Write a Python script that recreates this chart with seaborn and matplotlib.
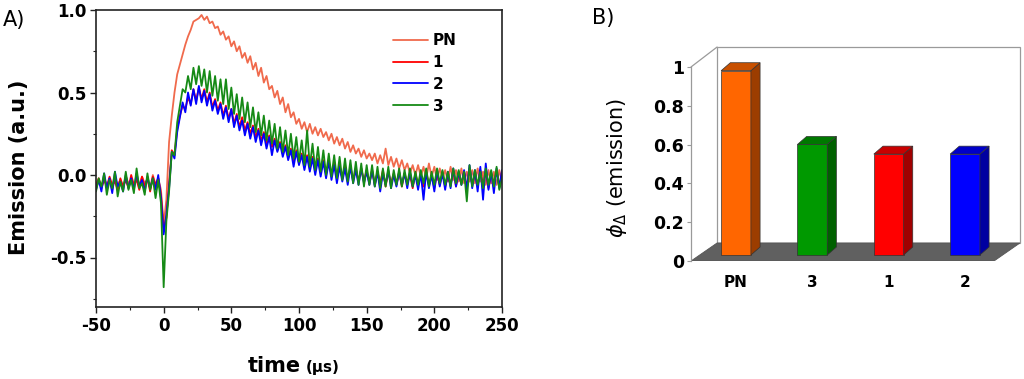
import numpy as np
import pandas as pd
import matplotlib
matplotlib.use("Agg")
import matplotlib.pyplot as plt
import seaborn as sns
from matplotlib.patches import Polygon, Rectangle
from matplotlib.ticker import MultipleLocator, FixedLocator

# ---------------- data: panel A (emission traces) ----------------
time_us = list(range(-50, 251, 2))

emission_PN = [
    -0.08, -0.03, -0.07, -0.02, -0.06, -0.04, -0.09, -0.02, -0.06, -0.03,
    -0.08, -0.01, -0.05, -0.03, -0.07, -0.02, -0.06, -0.01, -0.05, -0.03,
    -0.08, -0.00, -0.06, -0.02, -0.09,
    -0.30, -0.15, 0.20, 0.36, 0.50, 0.61, 0.67, 0.73, 0.79, 0.84,
    0.88, 0.93, 0.94, 0.95, 0.97, 0.94, 0.96, 0.92, 0.93, 0.89,
    0.90, 0.85, 0.87, 0.82, 0.84, 0.78, 0.81, 0.75, 0.78, 0.71,
    0.74, 0.68, 0.72, 0.64, 0.68, 0.60, 0.65, 0.56, 0.60, 0.52,
    0.54, 0.47, 0.51, 0.43, 0.47, 0.38, 0.43, 0.35, 0.38, 0.31,
    0.34, 0.28, 0.32, 0.26, 0.31, 0.25, 0.29, 0.24, 0.28, 0.23,
    0.26, 0.21, 0.25, 0.19, 0.23, 0.18, 0.22, 0.16, 0.20, 0.14,
    0.18, 0.13, 0.16, 0.11, 0.15, 0.10, 0.13, 0.09, 0.13, 0.07,
    0.12, 0.07, 0.16, 0.06, 0.11, 0.05, 0.10, 0.04, 0.09, 0.03,
    0.07, 0.01, 0.06, 0.00, 0.06, -0.01, 0.05, -0.02, 0.07, -0.01,
    0.05, -0.03, 0.04, -0.02, 0.03, -0.04, 0.05, -0.03, 0.03, -0.04,
    0.04, -0.05, 0.02, -0.04, 0.03, -0.05, 0.04, -0.04, 0.02, -0.06,
    0.03, -0.05, 0.02, -0.06, 0.03, -0.04,
]

emission_1 = [
    -0.06, -0.02, -0.08, -0.03, -0.07, -0.01, -0.06, -0.04, -0.09, -0.02,
    -0.07, -0.03, -0.08, 0.00, -0.06, -0.03, -0.09, -0.01, -0.07, -0.02,
    -0.10, -0.01, -0.06, -0.02, -0.12,
    -0.32, -0.26, -0.05, 0.15, 0.12, 0.28, 0.36, 0.42, 0.40, 0.47,
    0.43, 0.52, 0.45, 0.53, 0.46, 0.52, 0.44, 0.50, 0.41, 0.46,
    0.39, 0.44, 0.36, 0.42, 0.34, 0.40, 0.31, 0.37, 0.29, 0.35,
    0.27, 0.32, 0.25, 0.30, 0.23, 0.28, 0.21, 0.26, 0.19, 0.24,
    0.17, 0.22, 0.15, 0.20, 0.13, 0.18, 0.11, 0.16, 0.08, 0.15,
    0.07, 0.13, 0.06, 0.12, 0.04, 0.11, 0.03, 0.10, 0.02, 0.09,
    0.01, 0.08, 0.00, 0.07, -0.01, 0.06, -0.02, 0.05, -0.03, 0.05,
    -0.03, 0.04, -0.04, 0.04, -0.04, 0.03, -0.05, 0.03, -0.06, 0.02,
    -0.05, 0.03, -0.07, 0.02, -0.05, 0.01, -0.06, 0.02, -0.07, 0.01,
    -0.05, 0.00, -0.08, 0.01, -0.06, 0.00, -0.07, 0.02, -0.06, 0.00,
    -0.08, 0.01, -0.06, 0.02, -0.07, 0.00, -0.06, 0.03, -0.07, 0.01,
    -0.05, 0.02, -0.08, 0.04, -0.06, 0.01, -0.07, 0.03, -0.06, 0.02,
    -0.08, 0.01, -0.05, 0.03, -0.07, 0.02,
]

emission_2 = [
    -0.09, -0.03, -0.10, 0.01, -0.08, -0.02, -0.11, 0.02, -0.07, -0.04,
    -0.10, 0.00, -0.08, -0.02, -0.09, 0.01, -0.07, -0.03, -0.10, -0.01,
    -0.08, -0.02, -0.09, 0.00, -0.14,
    -0.36, -0.24, -0.08, 0.14, 0.10, 0.26, 0.35, 0.44, 0.38, 0.50,
    0.42, 0.52, 0.43, 0.54, 0.44, 0.51, 0.42, 0.49, 0.39, 0.45,
    0.37, 0.43, 0.34, 0.41, 0.32, 0.40, 0.29, 0.36, 0.27, 0.33,
    0.24, 0.31, 0.22, 0.29, 0.20, 0.27, 0.18, 0.25, 0.16, 0.23,
    0.12, 0.21, 0.14, 0.19, 0.11, 0.17, 0.09, 0.15, 0.05, 0.14,
    0.06, 0.12, 0.03, 0.11, 0.02, 0.10, 0.00, 0.09, -0.01, 0.08,
    -0.02, 0.08, -0.03, 0.06, -0.05, 0.05, -0.04, 0.04, -0.06, 0.05,
    -0.05, 0.03, -0.06, 0.04, -0.05, 0.02, -0.06, 0.03, -0.07, 0.02,
    -0.10, 0.01, -0.06, 0.03, -0.08, 0.00, -0.07, 0.02, -0.06, 0.01,
    -0.08, 0.02, -0.07, 0.00, -0.09, 0.01, -0.15, 0.02, -0.08, 0.00,
    -0.10, 0.03, -0.07, 0.01, -0.09, 0.02, -0.08, 0.04, -0.07, 0.02,
    -0.06, 0.03, -0.09, 0.06, -0.08, 0.03, -0.10, 0.05, -0.15, 0.07,
    -0.09, 0.02, -0.11, 0.04, -0.08, 0.03,
]

emission_3 = [
    -0.10, -0.02, -0.07, 0.01, -0.12, -0.03, -0.08, 0.02, -0.13, -0.04,
    -0.10, 0.02, -0.09, -0.03, -0.11, 0.04, -0.08, -0.05, -0.12, 0.01,
    -0.09, -0.02, -0.14, -0.03, -0.17,
    -0.68, -0.28, -0.10, 0.14, 0.12, 0.32, 0.42, 0.52, 0.50, 0.60,
    0.52, 0.65, 0.55, 0.66, 0.54, 0.64, 0.50, 0.63, 0.48, 0.60,
    0.45, 0.58, 0.43, 0.58, 0.40, 0.53, 0.37, 0.49, 0.34, 0.47,
    0.32, 0.44, 0.29, 0.41, 0.26, 0.38, 0.24, 0.36, 0.21, 0.33,
    0.19, 0.31, 0.16, 0.29, 0.14, 0.27, 0.12, 0.25, 0.10, 0.23,
    0.08, 0.21, 0.06, 0.27, 0.05, 0.19, 0.03, 0.17, 0.02, 0.15,
    0.00, 0.13, -0.01, 0.12, -0.02, 0.11, -0.03, 0.10, -0.04, 0.09,
    -0.05, 0.08, -0.06, 0.07, -0.07, 0.06, -0.06, 0.06, -0.07, 0.05,
    -0.08, 0.04, -0.07, 0.05, -0.08, 0.03, -0.06, 0.04, -0.07, 0.03,
    -0.06, 0.04, -0.07, 0.02, -0.06, 0.03, -0.05, 0.04, -0.07, 0.02,
    -0.06, 0.04, -0.05, 0.03, -0.06, 0.02, -0.07, 0.04, -0.05, 0.03,
    -0.06, 0.02, -0.16, 0.06, -0.07, 0.03, -0.06, 0.02, -0.08, 0.04,
    -0.06, 0.03, -0.07, 0.05, -0.09, -0.02,
]

series_names = ["PN", "1", "2", "3"]
series_colors = ["#F06A4C", "#FF0000", "#0000FF", "#168A16"]

# ---------------- data: panel B (3D-style bar chart) ----------------
bar_labels = ["PN", "3", "1", "2"]
bar_values = [0.95, 0.57, 0.52, 0.52]
bar_front = ["#FF6600", "#009900", "#FF0000", "#0000FF"]
bar_side = ["#9C3D00", "#006000", "#A00000", "#0000A0"]
bar_top = ["#C85000", "#007800", "#C80000", "#0000C8"]

for s in (emission_PN, emission_1, emission_2, emission_3):
    assert len(s) == len(time_us), len(s)

sns.set_style("ticks")
plt.rcParams["font.family"] = ["DejaVu Sans"]
plt.rcParams["axes.unicode_minus"] = False
plt.rcParams["text.color"] = "black"
plt.rcParams["axes.labelcolor"] = "black"
plt.rcParams["xtick.color"] = "black"
plt.rcParams["ytick.color"] = "black"

fig = plt.figure(figsize=(10.24, 3.79), dpi=100)

# ================= Panel A =================
axA = fig.add_axes([96 / 1024, 1 - 307 / 379, 406 / 1024, 297 / 379])
df = pd.DataFrame({
    "time": time_us * 4,
    "emission": emission_PN + emission_1 + emission_2 + emission_3,
    "series": sum([[n] * len(time_us) for n in series_names], []),
})
sns.lineplot(data=df, x="time", y="emission", hue="series", hue_order=series_names,
             palette=series_colors, estimator=None, sort=False, lw=1.3,
             legend=False, ax=axA)
axA.set_xlim(-50, 250)
axA.set_ylim(-0.8, 1.0)
axA.xaxis.set_major_locator(FixedLocator([-50, 0, 50, 100, 150, 200, 250]))
axA.xaxis.set_minor_locator(MultipleLocator(25))
axA.yaxis.set_major_locator(FixedLocator([-0.5, 0.0, 0.5, 1.0]))
axA.yaxis.set_minor_locator(FixedLocator([-0.75, -0.25, 0.25, 0.75]))
axA.set_xticklabels(["-50", "0", "50", "100", "150", "200", "250"])
axA.set_yticklabels(["-0.5", "0.0", "0.5", "1.0"])
axA.set_xlabel("")
axA.set_ylabel("")
for sp in axA.spines.values():
    sp.set_visible(True)
    sp.set_color("#222222")
    sp.set_linewidth(1.2)
axA.tick_params(which="major", direction="out", length=4, width=1, labelsize=12, pad=3,
                top=False, right=False, color="#222222", labelcolor="black")
axA.tick_params(which="minor", direction="out", length=2.5, width=0.8,
                top=False, right=False, color="#222222")
for lab in axA.get_xticklabels() + axA.get_yticklabels():
    lab.set_fontweight("bold")

handles = axA.get_lines()[:4]
axA.legend(handles, series_names, loc="upper left",
           bbox_to_anchor=(393 / 1024, 1 - 33 / 379), bbox_transform=fig.transFigure,
           frameon=False, prop={"weight": "bold", "size": 11}, handlelength=2.3,
           handletextpad=0.3, labelspacing=0.45, borderpad=0, borderaxespad=0,
           labelcolor="black")

fig.text(19 / 1024, 1 - 167 / 379, "Emission (a.u.)", rotation=90, fontsize=15,
         fontweight="bold", ha="center", va="center", color="black")
fig.text(301 / 1024, 1 - 372 / 379, "time", fontsize=15, fontweight="bold",
         ha="right", va="baseline", color="black")
fig.text(306 / 1024, 1 - 372 / 379, "(µs)", fontsize=11, fontweight="bold",
         ha="left", va="baseline", color="black")
fig.text(3 / 1024, 1 - 20 / 379, "A)", fontsize=15, ha="left", va="center", color="black")
fig.text(592 / 1024, 1 - 18 / 379, "B)", fontsize=15, ha="left", va="center", color="black")

# ================= Panel B =================
axB = fig.add_axes([691 / 1024, 1 - 261 / 379, 329 / 1024, 214 / 379])
sns.barplot(x=bar_labels, y=bar_values, hue=bar_labels, palette=bar_front,
            saturation=1, width=0.39, edgecolor="#333333", linewidth=0.5,
            legend=False, ax=axB)
bar_patches = sorted([p for p in axB.patches if isinstance(p, Rectangle)],
                     key=lambda p: p.get_x())

x_left, x_front_right, x_right = -0.59, 3.38, 3.72
ddx, ddy = 0.342, 0.093      # depth of the box
bdx, bdy = 0.12, 0.041       # depth of each bar
base = 0.031

floor = Polygon([(x_left, 0), (x_front_right, 0), (x_right, ddy), (x_left + ddx, ddy)],
                closed=True, fc="#606060", ec="#555555", lw=0.6, zorder=0.5)
axB.add_patch(floor)
wall = Polygon([(x_left + ddx, ddy), (x_left + ddx, 1.103), (x_right, 1.103), (x_right, ddy)],
               closed=True, fc="white", ec="#9A9A9A", lw=0.9, zorder=0.2, clip_on=False)
axB.add_patch(wall)
axB.plot([x_left, x_left + ddx], [1.0, 1.103], color="#9A9A9A", lw=0.9,
         clip_on=False, zorder=0.3)

for i, p in enumerate(bar_patches):
    x, w, h = p.get_x(), p.get_width(), p.get_height()
    p.set_y(base)
    p.set_zorder(3)
    side = Polygon([(x + w, base), (x + w + bdx, base + bdy), (x + w + bdx, base + h + bdy),
                    (x + w, base + h)], closed=True, fc=bar_side[i], ec="#333333",
                   lw=0.5, zorder=3)
    top = Polygon([(x, base + h), (x + bdx, base + h + bdy), (x + w + bdx, base + h + bdy),
                   (x + w, base + h)], closed=True, fc=bar_top[i], ec="#333333",
                  lw=0.5, zorder=3)
    axB.add_patch(side)
    axB.add_patch(top)

axB.set_xlim(x_left, x_right)
axB.set_ylim(0, 1.103)
for k in ("top", "right", "bottom"):
    axB.spines[k].set_visible(False)
axB.spines["left"].set_bounds(0, 1)
axB.spines["left"].set_color("#9A9A9A")
axB.spines["left"].set_linewidth(0.9)
axB.set_yticks([0, 0.2, 0.4, 0.6, 0.8, 1.0])
axB.set_yticklabels(["0", "0.2", "0.4", "0.6", "0.8", "1"])
axB.tick_params(axis="y", direction="out", length=3, color="#9A9A9A", labelsize=12.5, pad=2,
                labelcolor="black")
axB.tick_params(axis="x", length=0, labelsize=11, pad=10, labelcolor="black")
for lab in axB.get_xticklabels() + axB.get_yticklabels():
    lab.set_fontweight("bold")
axB.set_xlabel("")
axB.set_ylabel("")
axB.patch.set_alpha(0)

fig.text(617 / 1024, 1 - 168 / 379, r"$\phi_{\Delta}$ (emission)", rotation=90,
         fontsize=15, ha="center", va="center", color="black")

fig.savefig("out.png", dpi=100)
